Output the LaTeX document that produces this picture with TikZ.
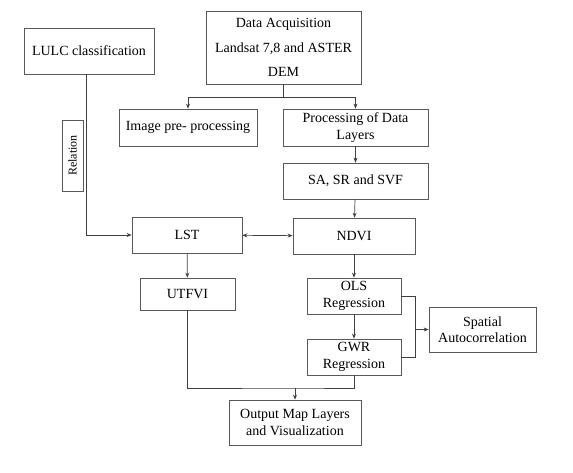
\documentclass[tikz,border=0pt]{standalone}
\usepackage{fontspec}
\setmainfont{Liberation Serif}
\usetikzlibrary{arrows.meta,positioning,calc}

\begin{document}
\begin{tikzpicture}[x=1pt,y=-1pt,>={Stealth[length=5pt,width=4pt]},
  font=\fontsize{14}{16.5}\selectfont,
  line/.style={draw=black!75,line width=0.7pt},
  blk/.style={draw=black!65,line width=0.7pt,align=center,inner sep=2pt},
  side/.style={draw=black!65,line width=0.7pt,inner sep=2pt,font=\fontsize{12}{14}\selectfont}]

  \useasboundingbox (0,0) rectangle (573,472);

  \node[blk,minimum width=155pt,minimum height=73pt] (acq) at (283.5,47.5)
    {Data Acquisition\\[8pt]Landsat 7,8 and ASTER\\[8pt]DEM};
  \node[blk,minimum width=130pt,minimum height=46pt] (lulc) at (89,51) {LULC classification};
  \node[blk,minimum width=138pt,minimum height=37pt] (pre) at (188,127.5) {Image pre- processing};
  \node[blk,minimum width=145pt,minimum height=37pt] (proc) at (355.5,127.5) {Processing of Data\\Layers};
  \node[blk,minimum width=145pt,minimum height=36pt] (sa) at (355.5,181) {SA, SR and SVF};
  \node[blk,minimum width=122pt,minimum height=36pt] (ndvi) at (354,236) {NDVI};
  \node[blk,minimum width=110pt,minimum height=36pt] (lst) at (187,235) {LST};
  \node[side,rotate=90,minimum width=71pt,minimum height=21pt] (rel) at (72.5,155.5) {Relation};
  \node[blk,minimum width=95pt,minimum height=32pt] (utfvi) at (187.5,294) {UTFVI};
  \node[blk,minimum width=94pt,minimum height=36pt] (ols) at (354,296) {OLS\\Regression};
  \node[blk,minimum width=94pt,minimum height=36pt] (gwr) at (354,357) {GWR\\Regression};
  \node[blk,minimum width=107pt,minimum height=45pt] (spat) at (482.5,329.5) {Spatial\\Autocorrelation};
  \node[blk,minimum width=132pt,minimum height=45pt] (out) at (295,422.5) {Output Map Layers\\and Visualization};

  % data acquisition splits in two
  \draw[line,->] (acq.south) -- ++(0,13) -| (pre.north);
  \draw[line,->] (acq.south) -- ++(0,13) -| (proc.north);
  \draw[line,->] (proc) -- (sa);
  \draw[line,->] (sa) -- (ndvi);
  \draw[line,->] ($(lulc.south)+(-3,0)$) |- (lst.west);
  \draw[line,<->] (lst) -- (ndvi);
  \draw[line,->] (lst) -- (utfvi);
  \draw[line,->] (ndvi) -- (ols);
  \draw[line,->] (ols) -- (gwr);

  % regressions to spatial autocorrelation
  \draw[line] (ols.east) -- ++(14,0) coordinate (br) |- (gwr.east);
  \draw[line,->] (br |- spat.west) -- (spat.west);

  % merge into output
  \coordinate (mrg) at (out.north |- 0,388);
  \draw[line] (utfvi.south) |- (mrg) -| (gwr.south);
  \draw[line,->] (mrg) -- (out.north);
\end{tikzpicture}
\end{document}
